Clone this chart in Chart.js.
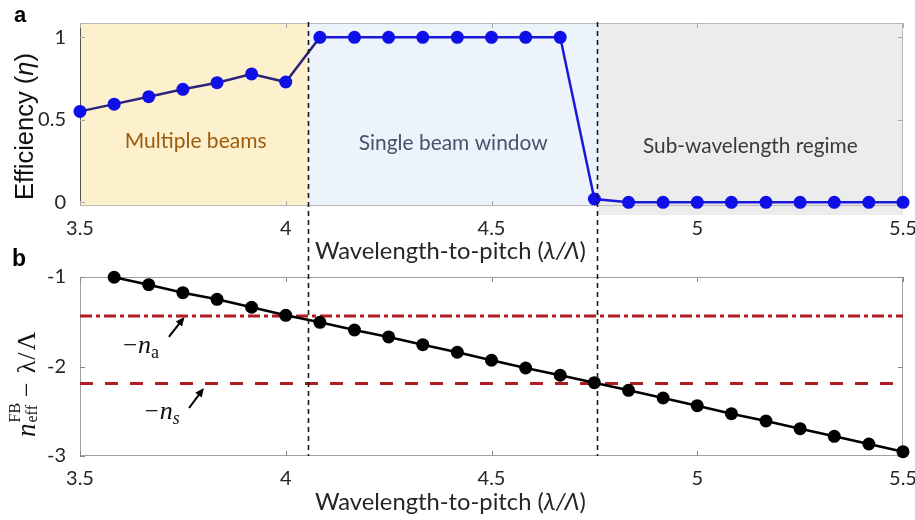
<!DOCTYPE html>
<html><head><meta charset="utf-8">
<script src="https://cdn.jsdelivr.net/npm/chart.js@4/dist/chart.umd.min.js"></script>
<style>
html,body{margin:0;padding:0;background:#fff;}
#wrap{position:relative;width:915px;height:520px;overflow:hidden;}
canvas{position:absolute;left:0;top:0;}
</style></head><body>
<div id="wrap"><canvas id="ca" width="915" height="520"></canvas><canvas id="cb" width="915" height="520"></canvas></div>
<script>
// ---------------- data ----------------
const ratio = [3.5, 3.583, 3.667, 3.75, 3.833, 3.917, 4.0, 4.083, 4.167, 4.25, 4.333, 4.417, 4.5,
               4.583, 4.667, 4.75, 4.833, 4.917, 5.0, 5.083, 5.167, 5.25, 5.333, 5.417, 5.5];
const efficiency = [0.551, 0.595, 0.640, 0.685, 0.725, 0.778, 0.729, 1, 1, 1, 1, 1, 1, 1, 1,
                    0.02, 0, 0, 0, 0, 0, 0, 0, 0, 0];
const neffRatio = [3.583, 3.667, 3.75, 3.833, 3.917, 4.0, 4.083, 4.167, 4.25, 4.333, 4.417, 4.5,
                   4.583, 4.667, 4.75, 4.833, 4.917, 5.0, 5.083, 5.167, 5.25, 5.333, 5.417, 5.5];
const neffMinusRatio = [-1.003, -1.086, -1.175, -1.249, -1.338, -1.428, -1.506, -1.592, -1.670, -1.756,
                        -1.841, -1.930, -2.017, -2.098, -2.181, -2.266, -2.352, -2.438, -2.527, -2.609,
                        -2.695, -2.780, -2.866, -2.952];
const naLevel = -1.436;
const nsLevel = -2.19;
const regionBounds = [3.5, 4.055, 4.757, 5.5];
const regionNames = ['Multiple beams', 'Single beam window', 'Sub-wavelength regime'];
const xTicks = [3.5, 4, 4.5, 5, 5.5];
const yTicksA = [0, 0.5, 1];
const yTicksB = [-3, -2, -1];

// ---------------- styles ----------------
const regionFill = ['#fdf0cd', '#edf3fb', '#ececec'];
const regionText = ['#9c5c0e', '#44546a', '#3a3a3a'];
const regionLabelPos = [{x: 3.781, y: 0.327, w: 142}, {x: 4.407, y: 0.317, w: 189}, {x: 5.129, y: 0.299, w: 215}];
const TICKFONT = {family: 'Lato', size: 20};
const TICKCOLOR = '#262626';

function fontStr(r, k) { return `${r.style || 'normal'} ${r.weight || 'normal'} ${r.size * k}px "${r.family}"`; }
function runW(ctx, r, k) {
  ctx.font = fontStr(r, k);
  if (r.sup !== undefined) return Math.max(ctx.measureText(r.sup).width, ctx.measureText(r.sub).width);
  return ctx.measureText(r.t).width;
}
function drawRuns(ctx, runs, x, y, opts) {
  const measure = k => runs.reduce((s, r) => s + (r.gap || 0) * k + runW(ctx, r, k), 0);
  let k = 1;
  if (opts.width) k = opts.width / measure(1);
  const total = measure(k);
  ctx.save();
  ctx.translate(x, y);
  if (opts.rotate) ctx.rotate(-Math.PI / 2);
  ctx.fillStyle = opts.color || '#222';
  ctx.textBaseline = 'alphabetic'; ctx.textAlign = 'left';
  let cx = opts.align === 'center' ? -total / 2 : 0;
  runs.forEach(r => {
    cx += (r.gap || 0) * k;
    ctx.font = fontStr(r, k);
    if (r.sup !== undefined) {
      ctx.fillText(r.sup, cx, r.supDy * k);
      ctx.fillText(r.sub, cx, r.subDy * k);
    } else {
      ctx.fillText(r.t, cx, (r.dy || 0) * k);
    }
    cx += runW(ctx, r, k);
  });
  ctx.restore();
}
function drawBoxAndTicks(chart, o) {
  const {ctx, chartArea: {left, right, top, bottom}, scales: {x, y}} = chart;
  ctx.save();
  ctx.lineWidth = 1;
  ctx.strokeStyle = o.box;
  ctx.beginPath();
  ctx.moveTo(left, top + 0.5); ctx.lineTo(right, top + 0.5);
  ctx.moveTo(right - 0.5, top); ctx.lineTo(right - 0.5, bottom);
  ctx.moveTo(left, bottom - 0.5); ctx.lineTo(right, bottom - 0.5);
  ctx.stroke();
  ctx.strokeStyle = o.left;
  ctx.beginPath(); ctx.moveTo(left + 0.5, top); ctx.lineTo(left + 0.5, bottom); ctx.stroke();
  ctx.strokeStyle = o.tick;
  ctx.beginPath();
  x.ticks.forEach(t => {
    const px = Math.round(x.getPixelForValue(t.value)) + 0.5;
    ctx.moveTo(px, bottom); ctx.lineTo(px, bottom - o.len);
    ctx.moveTo(px, top); ctx.lineTo(px, top + o.len);
  });
  y.ticks.forEach(t => {
    const py = Math.round(y.getPixelForValue(t.value)) + 0.5;
    ctx.moveTo(left, py); ctx.lineTo(left + o.len, py);
    ctx.moveTo(right, py); ctx.lineTo(right - o.len, py);
  });
  ctx.stroke();
  ctx.restore();
}
const xTitleRuns = [
  {t: 'Wavelength-to-pitch (', size: 23, family: 'Lato'},
  {t: 'λ/Λ', size: 23, family: 'Lato', style: 'italic'},
  {t: ')', size: 23, family: 'Lato'}
];

const panelA = {
  id: 'panelA',
  beforeDatasetsDraw(chart) {
    const {ctx, chartArea: {top, bottom}, scales: {x, y}} = chart;
    ctx.save();
    for (let i = 0; i < 3; i++) {
      const x0 = x.getPixelForValue(regionBounds[i]), x1 = x.getPixelForValue(regionBounds[i + 1]);
      ctx.fillStyle = regionFill[i];
      ctx.fillRect(x0, top, x1 - x0, bottom - top + (i === 2 ? 9 : 0));
    }
    ctx.restore();
    drawBoxAndTicks(chart, {box: '#b9b9b9', left: '#555555', tick: '#a8a8a8', len: 5});
    for (let i = 0; i < 3; i++) {
      const p = regionLabelPos[i];
      drawRuns(ctx, [{t: regionNames[i], size: 20, family: 'Lato'}],
        x.getPixelForValue(p.x), y.getPixelForValue(p.y), {align: 'center', width: p.w, color: regionText[i]});
    }
  },
  afterDraw(chart) {
    const ctx = chart.ctx;
    drawRuns(ctx, xTitleRuns, 315, 258.5, {width: 271, color: '#262626'});
    drawRuns(ctx, [
      {t: 'Efficiency (', size: 25, family: 'Liberation Sans'},
      {t: 'η', size: 25, family: 'Liberation Sans', style: 'italic'},
      {t: ')', size: 25, family: 'Liberation Sans'}
    ], 33, 200, {rotate: true, width: 147, color: '#111'});
    drawRuns(ctx, [{t: 'a', size: 22, family: 'Liberation Sans', weight: 'bold'}], 14, 21.7, {color: '#000'});
  }
};

const panelB = {
  id: 'panelB',
  beforeDatasetsDraw(chart) {
    drawBoxAndTicks(chart, {box: '#a0a0a0', left: '#a0a0a0', tick: '#888888', len: 5});
  },
  afterDatasetsDraw(chart) {
    const {ctx, chartArea: {bottom}, scales: {x, y}} = chart;
    const topA = chartA.chartArea.top - 1;
    ctx.save();
    ctx.strokeStyle = '#1a1a1a'; ctx.lineWidth = 1.6; ctx.setLineDash([5, 4]);
    [regionBounds[1], regionBounds[2]].forEach(v => {
      const px = Math.round(x.getPixelForValue(v)) + 0.5;
      ctx.beginPath(); ctx.moveTo(px, topA); ctx.lineTo(px, bottom); ctx.stroke();
    });
    ctx.restore();
    // annotations
    const ann = [
      {label: 'a', tx: 3.6045, ty: -1.849, ax0: 3.716, ay0: -1.670, ax1: 3.754, ay1: -1.447, subStyle: 'normal'},
      {label: 's', tx: 3.657, ty: -2.587, ax0: 3.765, ay0: -2.464, ax1: 3.801, ay1: -2.240, subStyle: 'italic'}
    ];
    ann.forEach(a => {
      drawRuns(ctx, [
        {t: '−', size: 25, family: 'Liberation Serif'},
        {t: 'n', size: 26, family: 'Liberation Serif', style: 'italic', gap: 1},
        {t: a.label, size: 18, family: 'Liberation Serif', style: a.subStyle, dy: 5}
      ], x.getPixelForValue(a.tx), y.getPixelForValue(a.ty), {color: '#111'});
      const x0 = x.getPixelForValue(a.ax0), y0 = y.getPixelForValue(a.ay0);
      const x1 = x.getPixelForValue(a.ax1), y1 = y.getPixelForValue(a.ay1);
      const ang = Math.atan2(y1 - y0, x1 - x0);
      ctx.save();
      ctx.strokeStyle = '#000'; ctx.fillStyle = '#000'; ctx.lineWidth = 2;
      ctx.beginPath(); ctx.moveTo(x0, y0);
      ctx.lineTo(x1 - 6 * Math.cos(ang), y1 - 6 * Math.sin(ang)); ctx.stroke();
      ctx.beginPath();
      ctx.moveTo(x1, y1);
      ctx.lineTo(x1 - 9 * Math.cos(ang) + 4 * Math.sin(ang), y1 - 9 * Math.sin(ang) - 4 * Math.cos(ang));
      ctx.lineTo(x1 - 9 * Math.cos(ang) - 4 * Math.sin(ang), y1 - 9 * Math.sin(ang) + 4 * Math.cos(ang));
      ctx.closePath(); ctx.fill();
      ctx.restore();
    });
  },
  afterDraw(chart) {
    const ctx = chart.ctx;
    drawRuns(ctx, xTitleRuns, 315, 509.5, {width: 271, color: '#262626'});
    drawRuns(ctx, [
      {t: 'n', size: 27, family: 'Liberation Serif', style: 'italic'},
      {sup: 'FB', sub: 'eff', size: 16, family: 'Liberation Serif', supDy: -15, subDy: 2, gap: 1},
      {t: '−', size: 26, family: 'Liberation Serif', gap: 6},
      {t: 'λ', size: 26, family: 'Liberation Serif', gap: 9},
      {t: '/', size: 26, family: 'Liberation Serif', gap: 1},
      {t: 'Λ', size: 26, family: 'Liberation Serif', gap: 2}
    ], 35, 437, {rotate: true, color: '#111'});
    drawRuns(ctx, [{t: 'b', size: 23, family: 'Liberation Sans', weight: 'bold'}], 12, 265.7, {color: '#000'});
  }
};

function xScale(heightPx) {
  return {
    type: 'linear', min: 3.5, max: 5.5,
    afterBuildTicks: s => { s.ticks = xTicks.map(v => ({value: v})); },
    afterFit: s => { s.height = heightPx; s.paddingLeft = 0; s.paddingRight = 0; },
    grid: {display: false, drawTicks: false}, border: {display: false},
    ticks: {padding: 11, font: TICKFONT, color: TICKCOLOR, callback: v => String(v), maxRotation: 0, autoSkip: false}
  };
}
function yScale(min, max, ticks) {
  return {
    type: 'linear', min: min, max: max,
    afterBuildTicks: s => { s.ticks = ticks.map(v => ({value: v})); },
    afterFit: s => { s.width = 80; s.paddingTop = 0; s.paddingBottom = 0; },
    grid: {display: false, drawTicks: false}, border: {display: false},
    ticks: {padding: 14, font: TICKFONT, color: TICKCOLOR, callback: v => String(v), autoSkip: false}
  };
}

const chartA = new Chart(document.getElementById('ca'), {
  type: 'line',
  data: {datasets: [{
    data: ratio.map((r, i) => ({x: r, y: efficiency[i]})),
    borderColor: '#1818d8', borderWidth: 2.5,
    pointBackgroundColor: '#0f0fe8', pointBorderColor: '#0f0fe8', pointRadius: 6.5, pointBorderWidth: 0,
    segment: {borderColor: c => c.p0.parsed.x < regionBounds[1] ? '#2c2478' : undefined},
    clip: false, tension: 0
  }]},
  options: {
    responsive: false, animation: false, devicePixelRatio: 1,
    layout: {padding: {top: 23, right: 12, bottom: 255, left: 0}},
    plugins: {legend: {display: false}, tooltip: {enabled: false}},
    scales: {x: xScale(59), y: yScale(-0.0224, 1.0867, yTicksA)}
  },
  plugins: [panelA]
});

const chartB = new Chart(document.getElementById('cb'), {
  type: 'line',
  data: {datasets: [
    {data: neffRatio.map((r, i) => ({x: r, y: neffMinusRatio[i]})),
     borderColor: '#000', borderWidth: 2.5, pointBackgroundColor: '#000', pointBorderColor: '#000',
     pointRadius: 6.5, pointBorderWidth: 0, clip: false, tension: 0},
    {data: [{x: 3.5, y: naLevel}, {x: 5.5, y: naLevel}], borderColor: '#b31b22', borderWidth: 3,
     borderDash: [12, 4, 4, 4], pointRadius: 0},
    {data: [{x: 3.5, y: nsLevel}, {x: 5.5, y: nsLevel}], borderColor: '#b31b22', borderWidth: 3,
     borderDash: [13, 12], pointRadius: 0}
  ]},
  options: {
    responsive: false, animation: false, devicePixelRatio: 1,
    layout: {padding: {top: 277, right: 12, bottom: 0, left: 0}},
    plugins: {legend: {display: false}, tooltip: {enabled: false}},
    scales: {x: xScale(64), y: yScale(-3, -1, yTicksB)}
  },
  plugins: [panelB]
});
</script></body></html>
